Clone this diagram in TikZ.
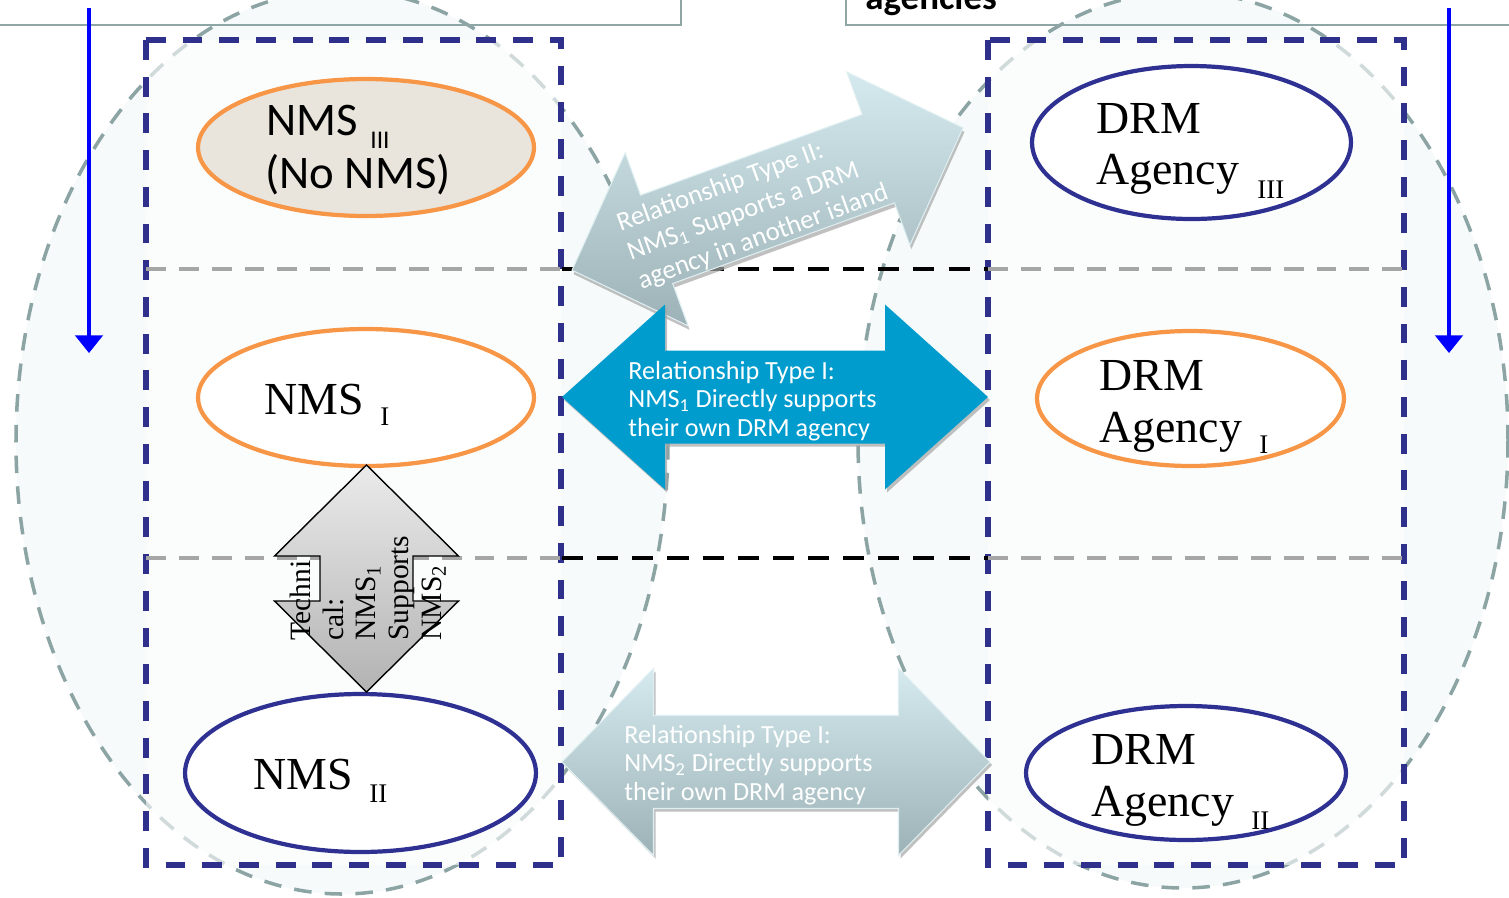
\documentclass[tikz,border=0pt]{standalone}
\usepackage{fontspec}
\usetikzlibrary{shapes.geometric,arrows.meta}
\newfontfamily\carl{Carlito}
\newfontfamily\tnr{Liberation Serif}
\definecolor{navy}{RGB}{46,48,140}
\definecolor{ovalnavy}{RGB}{46,49,146}
\definecolor{amber}{RGB}{247,150,70}
\definecolor{sand}{RGB}{233,229,220}
\definecolor{islandedge}{RGB}{140,164,164}
\definecolor{islandfill}{RGB}{246,250,251}
\definecolor{framegrey}{RGB}{143,166,166}
\definecolor{rowgrey}{RGB}{166,166,166}
\definecolor{relblue}{RGB}{0,156,205}
\definecolor{paletop}{RGB}{212,234,238}
\definecolor{palebot}{RGB}{156,178,182}
\definecolor{paleedge}{RGB}{222,238,241}
% double-headed block arrow centred on the origin:
% #1 half length, #2 head length, #3 head half width, #4 shaft half width
\newcommand\dblarrow[4]{(-#1,0) -- (-#1+#2,#3) -- (-#1+#2,#4) -- (#1-#2,#4) -- (#1-#2,#3) -- (#1,0) -- (#1-#2,-#3) -- (#1-#2,-#4) -- (-#1+#2,-#4) -- (-#1+#2,-#3) -- cycle}
\begin{document}
\begin{tikzpicture}[x=0.02cm,y=-0.02cm,
  island/.style={draw=islandedge, fill=islandfill, line width=2pt, dash pattern=on 10pt off 7.5pt},
  zone/.style={draw=navy, line width=2.9pt, dash pattern=on 11.3pt off 9.6pt, fill=white, fill opacity=0.6},
  rowline/.style={draw=rowgrey, line width=2.5pt, dash pattern=on 11.3pt off 7.4pt},
  midline/.style={draw=black, line width=2.7pt, dash pattern=on 12pt off 8pt},
  frame/.style={draw=framegrey, line width=1.3pt},
  flow/.style={draw=blue, line width=2pt, -{Triangle[width=15.5pt,length=10pt]}},
  oval/.style={ellipse, line width=2.4pt, inner sep=0pt},
  serifword/.style={font=\tnr\fontsize{26.1pt}{29pt}\selectfont, inner sep=0pt, anchor=base west},
  serifsub/.style={font=\tnr\fontsize{15.3pt}{17pt}\selectfont, inner sep=0pt, anchor=base west},
  sansword/.style={font=\carl\fontsize{26.6pt}{29pt}\selectfont, inner sep=0pt, anchor=base west},
  sanssub/.style={font=\carl\fontsize{14.5pt}{16pt}\selectfont, inner sep=0pt, anchor=base west},
  headline/.style={font=\carl\bfseries\fontsize{21pt}{24pt}\selectfont, inner sep=0pt, anchor=base west},
  reltext/.style={font=\carl\fontsize{14.9pt}{16.3pt}\selectfont, text=white, align=left, inner sep=0pt},
  techtext/.style={font=\tnr\fontsize{16.8pt}{18.6pt}\selectfont, align=left, inner sep=0pt},
  padshadow/.style={fill=black!35, fill opacity=0.7},
  palearrow/.style={top color=paletop, bottom color=palebot, draw=paleedge, line width=0.6pt},
]
\useasboundingbox (0,0) rectangle (1509,897);
\clip (0,0) rectangle (1509,897);
\fill[white] (0,0) rectangle (1509,897);

% the two islands
\draw[island] (342,442) ellipse [x radius=326, y radius=452];
\draw[island] (1183,440) ellipse [x radius=325, y radius=448];

% dashed zones for NMS and DRM agencies
\draw[zone] (146,40) rectangle (561,865);
\draw[zone] (988,40) rectangle (1404,865);

% row separators
\draw[rowline] (146,269) -- (562,269);
\draw[rowline] (988,269) -- (1404,269);
\draw[rowline] (146,558) -- (562,558);
\draw[rowline] (988,558) -- (1404,558);
\draw[midline] (562,269) -- (988,269);
\draw[midline] (562,558) -- (988,558);

% header boxes
\draw[frame] (-10,25) -- (681,25) -- (681,-20);
\draw[frame] (1520,25) -- (846,25) -- (846,-20);
\node[headline] (hdr) at (865,9) {agencies};

% downward flow markers
\coordinate (ltop) at (89,8);
\coordinate (lbot) at (89,353);
\coordinate (rtop) at (1449,8);
\coordinate (rbot) at (1449,353);
\draw[flow] (ltop) -- (lbot);
\draw[flow] (rtop) -- (rbot);

% NMS ovals
\node[oval, draw=amber, fill=sand, minimum width=6.72cm, minimum height=2.74cm] (nms3) at (366,147.5) {};
\node[oval, draw=amber, fill=white, minimum width=6.72cm, minimum height=2.74cm] (nms1) at (366,397.5) {};
\node[oval, draw=ovalnavy, fill=white, minimum width=7.02cm, minimum height=3.16cm] (nms2) at (360.5,773) {};
% DRM agency ovals
\node[oval, draw=ovalnavy, fill=white, minimum width=6.38cm, minimum height=3.06cm] (drm3) at (1191.5,142.5) {};
\node[oval, draw=amber, fill=white, minimum width=6.14cm, minimum height=2.70cm] (drm1) at (1190.5,398.5) {};
\node[oval, draw=ovalnavy, fill=white, minimum width=6.40cm, minimum height=2.68cm] (drm2) at (1186,773) {};

% oval labels
\node[sansword] (nms3a) at (266,135) {NMS};
\node[sanssub] (nms3s) at (370,148) {III};
\node[sansword] (nms3b) at (265,188) {(No NMS)};
\node[serifword] (nms1a) at (264,414) {NMS};
\node[serifsub] (nms1s) at (380,425) {I};
\node[serifword] (nms2a) at (253,789) {NMS};
\node[serifsub] (nms2s) at (369,802) {II};
\node[serifword] (drm3a) at (1096,133) {DRM};
\node[serifword] (drm3b) at (1096,184) {Agency};
\node[serifsub] (drm3s) at (1257,198) {III};
\node[serifword] (drm1a) at (1099,390) {DRM};
\node[serifword] (drm1b) at (1099,442) {Agency};
\node[serifsub] (drm1s) at (1259,453) {I};
\node[serifword] (drm2a) at (1091,764) {DRM};
\node[serifword] (drm2b) at (1091,816) {Agency};
\node[serifsub] (drm2s) at (1251,829) {II};

% relationship type II (cross-island)
\begin{scope}[shift={(769,203)},rotate=20]
  \fill[padshadow] \dblarrow{208}{90}{92}{47};
\end{scope}
\begin{scope}[shift={(767.5,199)},rotate=20]
  \shadedraw[palearrow] \dblarrow{208}{90}{92}{47};
  \node[reltext, rotate=20, font=\carl\fontsize{15.2pt}{17.4pt}\selectfont] (rel2) at (-17,4) {Relationship Type II:\\NMS\textsubscript{1} Supports a DRM\\agency in another island};
\end{scope}

% relationship type I (own island)
\begin{scope}[shift={(777,400)}]
  \fill[padshadow] \dblarrow{213}{103}{92.5}{46.5};
\end{scope}
\begin{scope}[shift={(775,397)}]
  \fill[relblue] \dblarrow{213}{103}{92.5}{46.5};
\end{scope}
\node[reltext, anchor=west] (rel1) at (628,401) {Relationship Type I:\\NMS\textsubscript{1} Directly supports\\their own DRM agency};

\begin{scope}[shift={(778,765)}]
  \fill[padshadow] \dblarrow{214}{91.5}{93.5}{46.5};
\end{scope}
\begin{scope}[shift={(776,762)}]
  \shadedraw[palearrow] \dblarrow{214}{91.5}{93.5}{46.5};
\end{scope}
\node[reltext, anchor=west] (rel3) at (624,765) {Relationship Type I:\\NMS\textsubscript{2} Directly supports\\their own DRM agency};

% technical support between the two NMS
\begin{scope}[shift={(366.5,578.5)},rotate=90]
  \shadedraw[top color=black!8, bottom color=black!30, draw=black, line width=0.8pt] \dblarrow{113.5}{91}{92}{46.5};
\end{scope}
\node[techtext, rotate=90] (tech) at (368,588) {Techni\\cal:\\NMS\textsubscript{1}\\Supports\\NMS\textsubscript{2}};
\end{tikzpicture}
\end{document}
